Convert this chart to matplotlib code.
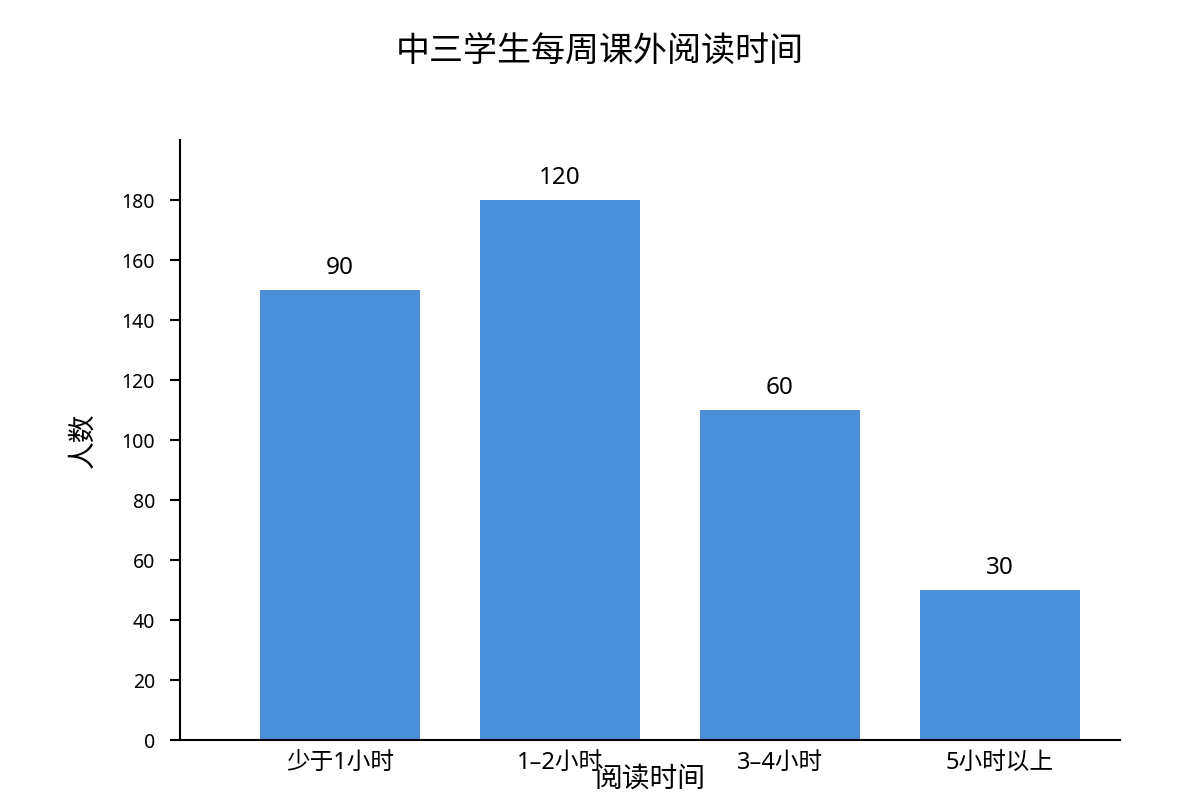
import matplotlib
matplotlib.use("Agg")
import matplotlib.pyplot as plt
import numpy as np

plt.rcParams['font.family'] = ['Noto Sans', 'Noto Sans CJK SC', 'DejaVu Sans']

categories = ["少于1小时", "1–2小时", "3–4小时", "5小时以上"]
bar_heights = [150, 180, 110, 50]
bar_labels = ["90", "120", "60", "30"]
y_ticks = list(range(0, 181, 20))

fig = plt.figure(figsize=(12, 8), dpi=100)
ax = fig.add_axes([0.15, 0.075, 0.7833, 0.75])

x = np.arange(len(categories))
bars = ax.bar(x, bar_heights, width=0.727, color="#4A90D9")

for rect, lab in zip(bars, bar_labels):
    ax.annotate(lab, (rect.get_x() + rect.get_width() / 2, rect.get_height()),
                xytext=(0, 7), textcoords="offset points",
                ha="center", va="bottom", fontsize=17.5)

ax.set_xlim(-0.7273, 3.5455)
ax.set_ylim(0, 200)
ax.set_xticks(x)
ax.set_xticklabels(categories, fontsize=17)
ax.set_yticks(y_ticks)
ax.tick_params(axis="y", labelsize=14, length=7, width=1.5, pad=11)
ax.tick_params(axis="x", length=0, pad=8)

for s in ["top", "right"]:
    ax.spines[s].set_visible(False)
ax.spines["left"].set_linewidth(1.5)
ax.spines["bottom"].set_linewidth(1.5)

ax.set_xlabel("阅读时间", fontsize=20)
ax.xaxis.set_label_coords(0.5, -0.042)
ax.set_ylabel("人数", fontsize=20)
ax.yaxis.set_label_coords(-0.088, 0.5)

fig.suptitle("中三学生每周课外阅读时间", fontsize=24.5, x=0.5, y=0.955)

fig.savefig("out.png", dpi=100)
